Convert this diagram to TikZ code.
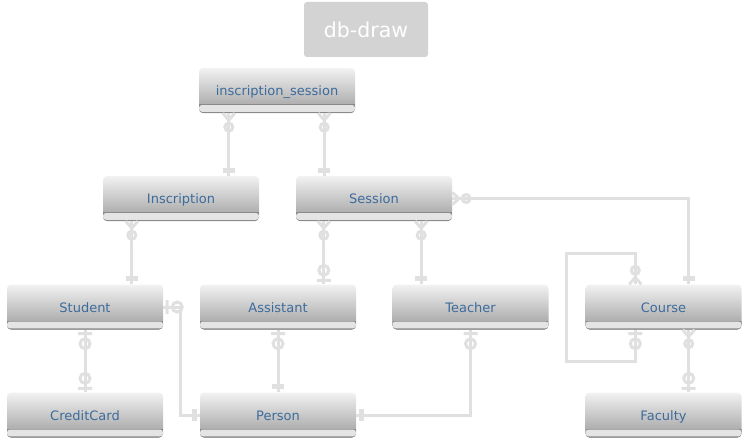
\documentclass[tikz,border=0pt]{standalone}
\usepackage{fontspec}
\setmainfont{DejaVu Sans}
\usepackage{tikz}

\definecolor{boxtop}{HTML}{F2F2F2}
\definecolor{boxbot}{HTML}{9E9E9E}
\definecolor{strip}{HTML}{E4E4E4}
\definecolor{stripedge}{HTML}{8A8A8A}
\definecolor{nametext}{HTML}{3D6B9C}
\definecolor{linkgray}{HTML}{E0E0E0}
\definecolor{titlebg}{HTML}{D3D3D3}

\begin{document}
\begin{tikzpicture}[x=1pt,y=-1pt,
    entity/.style={rectangle,rounded corners=4,minimum width=156,minimum height=45,inner sep=0,
        text height=10.5,text depth=0.5,
        top color=boxtop,bottom color=boxbot,text=nametext,font=\fontsize{13}{15}\selectfont,
        path picture={
            \fill[stripedge,sharp corners] ([yshift=9]path picture bounding box.south west) rectangle (path picture bounding box.south east);
            \fill[strip,rounded corners=3] ([yshift=8]path picture bounding box.south west) rectangle ([yshift=1.2]path picture bounding box.south east);}},
    conn/.style={draw=linkgray,line width=3},
    zmany/.pic={\draw[conn] (-6,0) -- (0,7) -- (6,0) (0,14) circle (4);},
    zone/.pic={\draw[conn] (-7,4) -- (7,4) (0,14) circle (5);},
    one/.pic={\fill[linkgray] (-6,3) rectangle (6,8);}]
    \useasboundingbox (0,0) rectangle (746,444);

    \node[fill=titlebg,rounded corners=3,minimum width=124,minimum height=55,text=white,
        font=\fontsize{20.5}{24}\selectfont] (title) at (366,29.5) {db-draw};

    \node[entity] (inscsess) at (277,90.5) {inscription\_session};
    \node[entity] (insc) at (181,198.5) {Inscription};
    \node[entity] (sess) at (374,198.5) {Session};
    \node[entity] (student) at (85,307) {Student};
    \node[entity] (assistant) at (278,307) {Assistant};
    \node[entity] (teacher) at (470.5,307) {Teacher};
    \node[entity] (course) at (663.5,307) {Course};
    \node[entity] (creditcard) at (85,415) {CreditCard};
    \node[entity] (person) at (278,415) {Person};
    \node[entity] (faculty) at (663.5,415) {Faculty};

    \coordinate (a1) at ([xshift=30]inscsess.south west);
    \coordinate (a2) at ([xshift=-31]inscsess.south east);
    \coordinate (b1) at ([xshift=29]insc.south west);
    \coordinate (c1) at ([xshift=28]sess.south west);
    \coordinate (c2) at ([xshift=-31]sess.south east);
    \coordinate (d1) at ([xshift=50]course.south west);
    \coordinate (d2) at ([xshift=-53]course.south east);

    % relations
    \draw[conn] (a1) -- (a1 |- insc.north);
    \draw[conn] (a2) -- (a2 |- sess.north);
    \draw[conn] (b1) -- (b1 |- student.north);
    \draw[conn] (c1) -- (c1 |- assistant.north);
    \draw[conn] (c2) -- (c2 |- teacher.north);
    \draw[conn] (sess.east) -| (d2 |- course.north);
    \draw[conn] (d1 |- course.north) -- ++(0,-31) -- ++(-69,0) -- ++(0,108) -- ++(69,0) -- (d1);
    \draw[conn] (d2) -- (d2 |- faculty.north);
    \draw[conn] (student.south) -- (creditcard.north);
    \draw[conn] (student.east) -| ([xshift=-19]person.west) -- (person.west);
    \draw[conn] (assistant.south) -- (person.north);
    \draw[conn] (teacher.south) |- (person.east);

    % cardinalities
    \foreach \P/\R/\M in {a1/0/zmany, a2/0/zmany, b1/0/zmany, c1/0/zmany, c2/0/zmany,
        d2/0/zmany, sess.east/90/zmany, d1 |- course.north/180/zmany,
        d1/0/zone, student.south/0/zone, student.east/90/zone, assistant.south/0/zone,
        teacher.south/0/zone, c1 |- assistant.north/180/zone, d2 |- faculty.north/180/zone,
        creditcard.north/180/zone,
        a1 |- insc.north/180/one, a2 |- sess.north/180/one, b1 |- student.north/180/one,
        c2 |- teacher.north/180/one, d2 |- course.north/180/one, person.north/180/one,
        person.west/-90/one, person.east/90/one}
    {\pic[rotate=\R] at (\P) {\M};}
\end{tikzpicture}
\end{document}
